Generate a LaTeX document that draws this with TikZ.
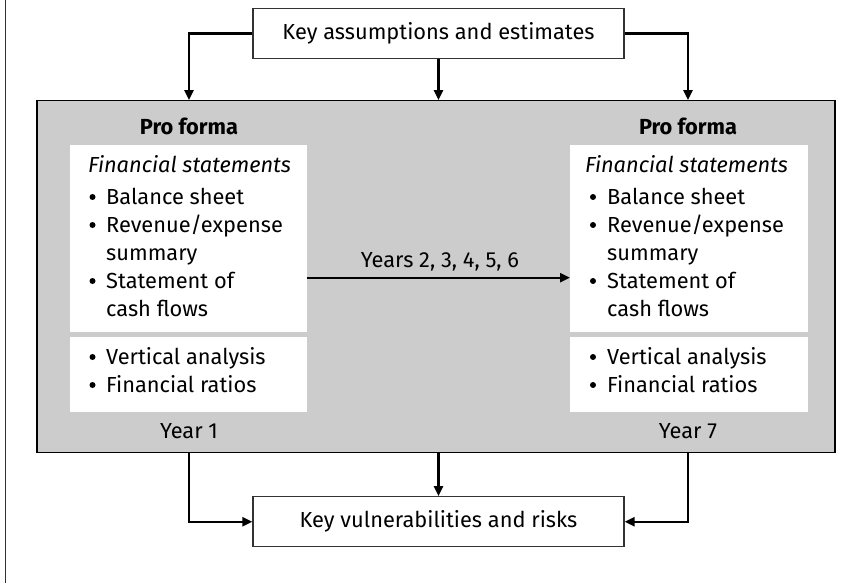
\documentclass[tikz,border=0pt]{standalone}
\usepackage{fontspec}
\setmainfont{Fira Sans}
\usetikzlibrary{arrows.meta}
\definecolor{panelgray}{HTML}{CCCCCC}
\definecolor{boxline}{HTML}{333333}
\newcommand{\fsz}{\fontsize{21.8}{24}\selectfont}
\tikzset{
  txt/.style={font=\fsz, inner sep=0pt, anchor=base west},
  ctxt/.style={font=\fsz, inner sep=0pt, anchor=base},
  keybox/.style={draw=boxline, line width=1.3pt, fill=white, minimum width=371pt, minimum height=50pt, inner sep=0pt, font=\fsz},
  arr/.style={line width=2.4pt, -{Triangle[length=10pt,width=9pt]}},
  bul/.style={fill=black},
}
\begin{document}
\begin{tikzpicture}[x=1pt,y=-1pt]
\useasboundingbox (0,0) rectangle (862,583);
\draw[boxline, line width=1pt] (5,0) -- (5,583);
% gray box
\node[draw=black, line width=1.3pt, fill=panelgray, minimum width=798pt, minimum height=352pt, inner sep=0pt] (big) at (436,276.7) {};
% white panels
\node[fill=white, minimum width=237pt, minimum height=267pt, inner sep=0pt] (p1) at (188.5,278.5) {};
\node[fill=white, minimum width=238pt, minimum height=267pt, inner sep=0pt] (p2) at (689,278.5) {};
\fill[panelgray] (p1.west |- 0,332) rectangle (p1.east |- 0,336.5);
\fill[panelgray] (p2.west |- 0,332) rectangle (p2.east |- 0,336.5);
% key boxes
\node[keybox] (top) at (438.5,33.5) {Key assumptions and estimates};
\node[keybox] (bot) at (438.5,521.7) {Key vulnerabilities and risks};
% headings
\node[ctxt, font=\fsz\bfseries] (pf1) at (189,135) {Pro forma};
\node[ctxt, font=\fsz\bfseries] (pf2) at (688,135) {Pro forma};
\node[ctxt] (y1) at (189,438) {Year 1};
\node[ctxt] (y7) at (688,438) {Year 7};
% left panel text
\node[txt, font=\fsz\itshape] (l0) at (88,172) {Financial statements};
\node[txt] (l1) at (106,204) {Balance sheet};
\node[txt] (l2) at (106,232) {Revenue/expense};
\node[txt] (l3) at (106,260) {summary};
\node[txt] (l4) at (106,288) {Statement of};
\node[txt] (l5) at (106,316) {cash flows};
\node[txt] (l6) at (106,364) {Vertical analysis};
\node[txt] (l7) at (106,392) {Financial ratios};
\foreach \yy in {204,232,288,364,392} \fill[bul] (92.5,\yy-7) circle (3pt);
% right panel text
\node[txt, font=\fsz\itshape] (r0) at (585,172) {Financial statements};
\node[txt] (r1) at (607,204) {Balance sheet};
\node[txt] (r2) at (607,232) {Revenue/expense};
\node[txt] (r3) at (607,260) {summary};
\node[txt] (r4) at (607,288) {Statement of};
\node[txt] (r5) at (607,316) {cash flows};
\node[txt] (r6) at (607,364) {Vertical analysis};
\node[txt] (r7) at (607,392) {Financial ratios};
\foreach \yy in {204,232,288,364,392} \fill[bul] (593,\yy-7) circle (3pt);
% middle arrow
\coordinate (ms) at (307,277.7);
\coordinate (me) at (570,277.7);
\draw[arr] (ms) -- (me);
\node[ctxt] (yrs) at (440,267) {Years 2, 3, 4, 5, 6};
% top arrows
\draw[arr] (top.west) -| (pf1 |- big.north);
\draw[arr] (top.east) -| (pf2 |- big.north);
\draw[arr] (top.south) -- (top.south |- big.north);
% bottom arrows
\draw[arr] (y1 |- big.south) |- (bot.west);
\draw[arr] (y7 |- big.south) |- (bot.east);
\draw[arr] (bot.north |- big.south) -- (bot.north);
\end{tikzpicture}
\end{document}
